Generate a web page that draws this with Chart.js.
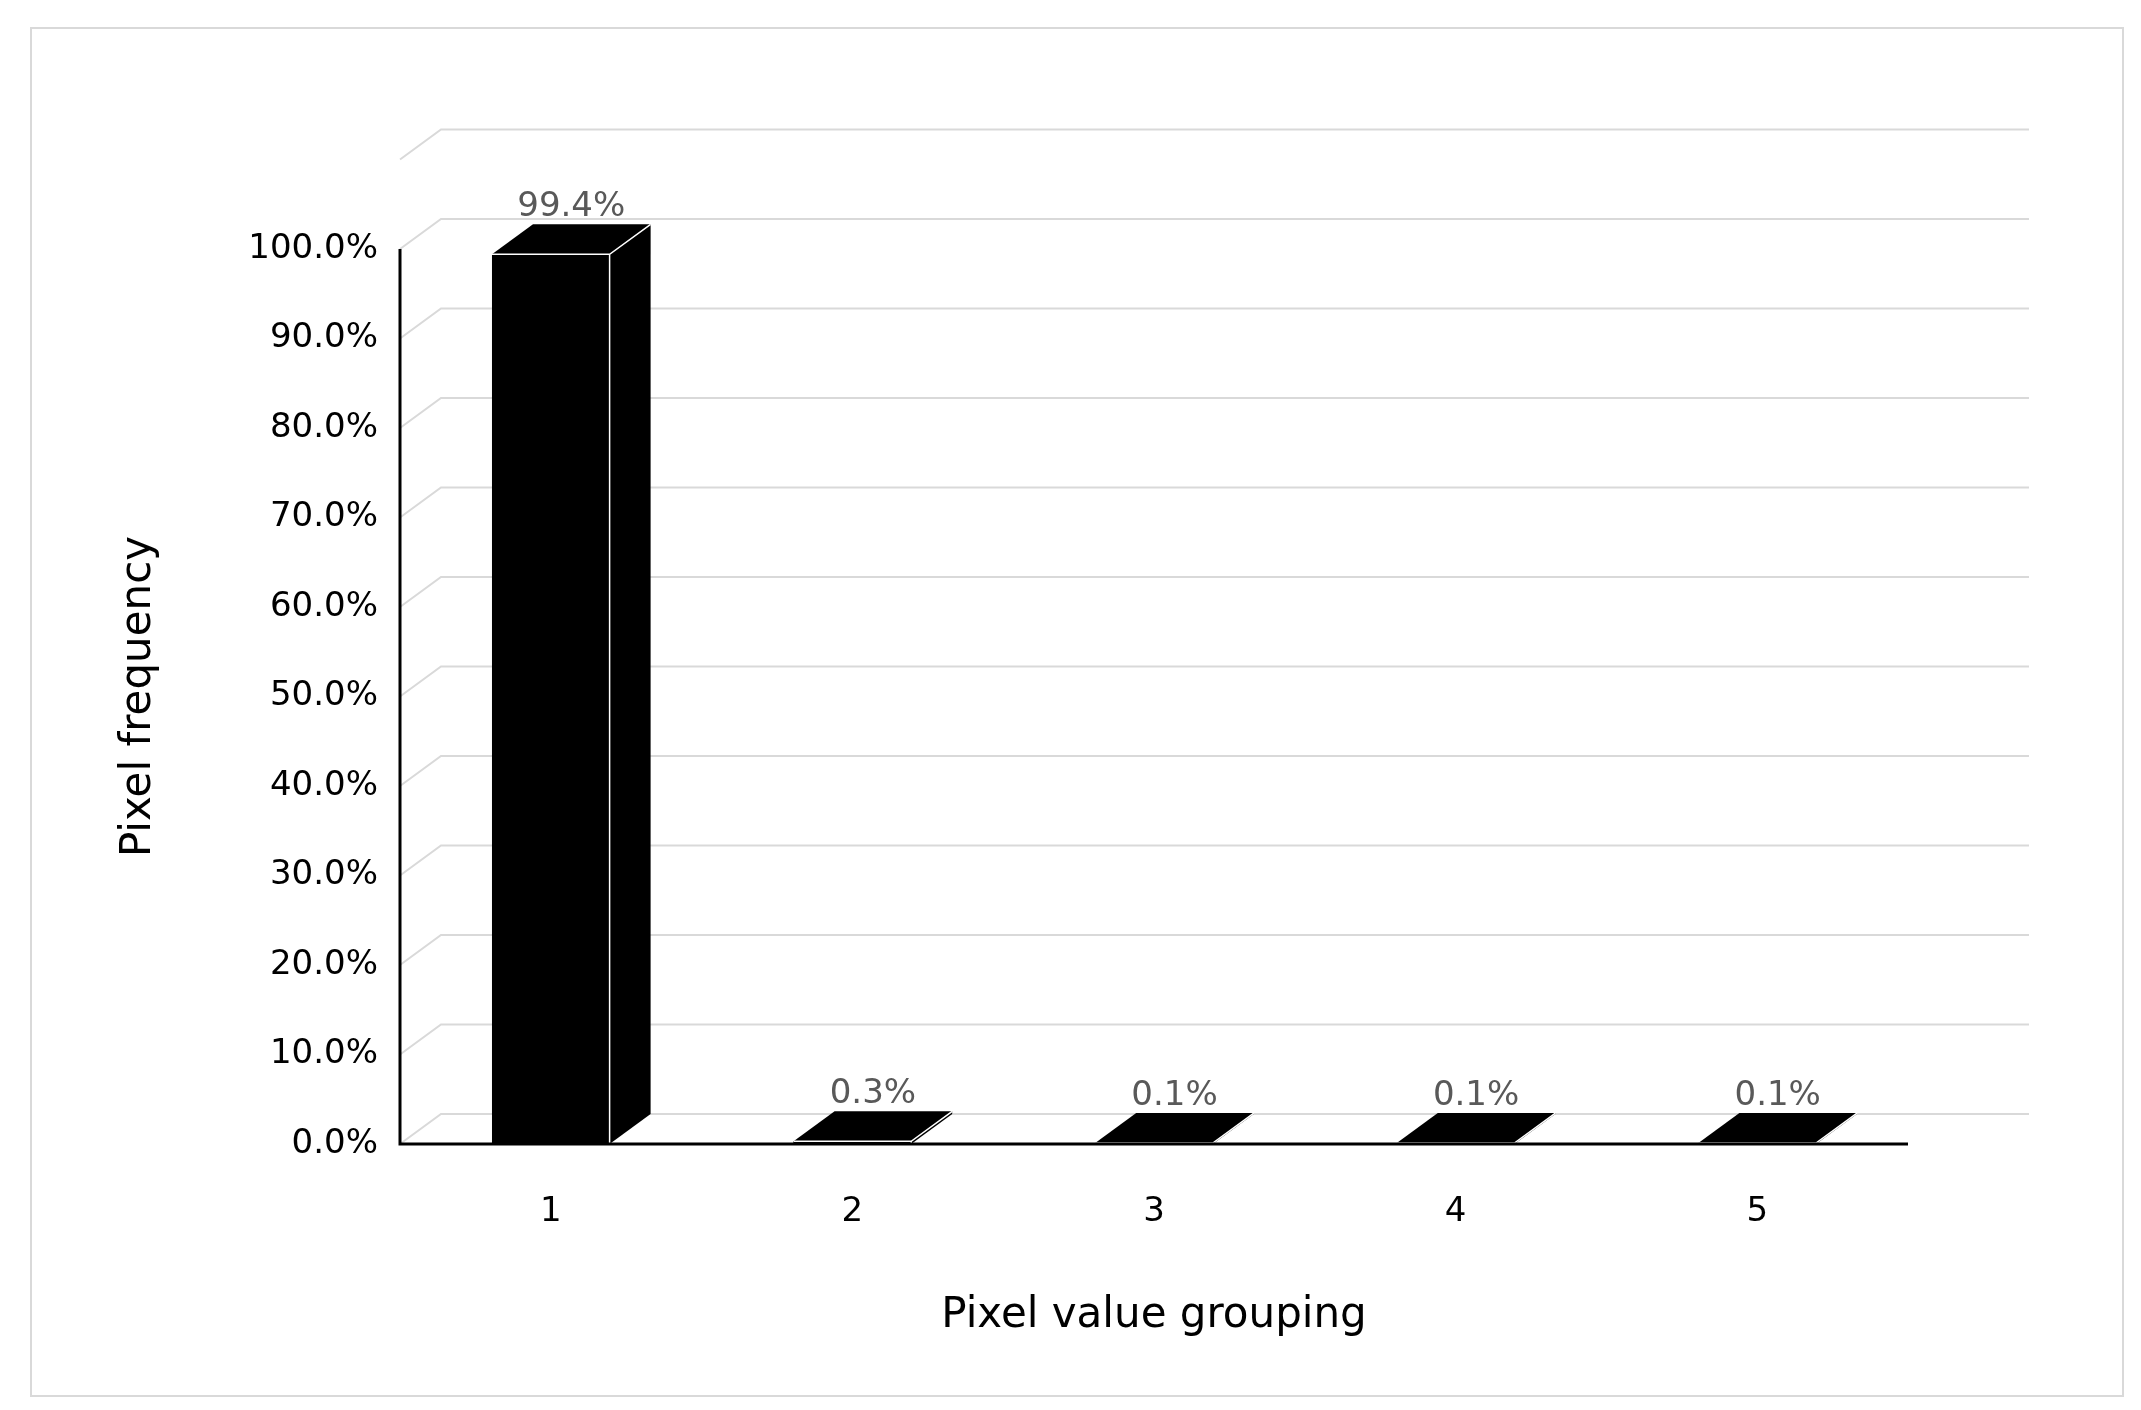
<!DOCTYPE html>
<html>
<head>
<script src="https://cdn.jsdelivr.net/npm/chart.js@4"></script>
<style>
body { margin: 0; background: #fff; }
#box { position: absolute; left: 30px; top: 27px; width: 2090px; height: 1366px; border: 2px solid #d9d9d9; }
</style>
</head>
<body>
<div id="box"><canvas id="c" width="2090" height="1366"></canvas></div>
<script>
const groups = ['1', '2', '3', '4', '5'];
const frequency = [99.4, 0.3, 0.1, 0.1, 0.1];
const yTicks = [0, 10, 20, 30, 40, 50, 60, 70, 80, 90, 100];

const DX = 41, DY = 30;

// back wall grid + 3D faces of the bars
const depth3d = {
    id: 'depth3d',
    beforeDatasetsDraw(chart) {
        const ctx = chart.ctx, y = chart.scales.y, a = chart.chartArea;
        ctx.save();
        ctx.strokeStyle = '#d9d9d9';
        ctx.lineWidth = 2;
        yTicks.concat([110]).forEach(v => {
            const py = y.getPixelForValue(v);
            ctx.beginPath();
            ctx.moveTo(a.left, py);
            ctx.lineTo(a.left + DX, py - DY);
            ctx.lineTo(a.right + DX + 80, py - DY);
            ctx.stroke();
        });
        ctx.restore();
    },
    afterDatasetsDraw(chart) {
        const ctx = chart.ctx;
        ctx.save();
        ctx.fillStyle = '#000';
        chart.getDatasetMeta(0).data.forEach(bar => {
            const l = bar.x - bar.width / 2, r = bar.x + bar.width / 2, t = bar.y, b = bar.base;
            ctx.beginPath();
            ctx.moveTo(l, t);
            ctx.lineTo(l + DX, t - DY);
            ctx.lineTo(r + DX, t - DY);
            ctx.lineTo(r + DX, b - DY);
            ctx.lineTo(r, b);
            ctx.lineTo(l, b);
            ctx.closePath();
            ctx.fill();
            ctx.strokeStyle = '#fff';
            ctx.lineWidth = 1.5;
            ctx.beginPath();
            ctx.moveTo(l, t); ctx.lineTo(r, t); ctx.lineTo(r + DX, t - DY);
            ctx.moveTo(r, t); ctx.lineTo(r, b);
            ctx.stroke();
        });
        // labels
        ctx.fillStyle = '#595959';
        ctx.font = '34px "DejaVu Sans"';
        ctx.textAlign = 'center';
        ctx.textBaseline = 'bottom';
        chart.getDatasetMeta(0).data.forEach((bar, i) => {
            ctx.fillText(frequency[i].toFixed(1) + '%', bar.x + DX / 2, bar.y - DY);
        });
        // front axes
        const a = chart.chartArea;
        ctx.strokeStyle = '#000';
        ctx.lineWidth = 3;
        ctx.beginPath();
        ctx.moveTo(a.left, chart.scales.y.getPixelForValue(100));
        ctx.lineTo(a.left, a.bottom);
        ctx.lineTo(a.right, a.bottom);
        ctx.stroke();
        ctx.restore();
    }
};

new Chart(document.getElementById('c'), {
    type: 'bar',
    data: {
        labels: groups,
        datasets: [{ data: frequency, backgroundColor: '#000', categoryPercentage: 1, barPercentage: 0.39 }]
    },
    options: {
        responsive: false,
        animation: false,
        layout: { padding: { left: 78, right: 214, top: 220, bottom: 50 } },
        plugins: { legend: { display: false }, tooltip: { enabled: false } },
        scales: {
            x: {
                grid: { display: false },
                border: { display: false },
                ticks: { color: '#000', font: { size: 34, family: 'DejaVu Sans' }, padding: 40 },
                title: { display: true, text: 'Pixel value grouping', color: '#000', font: { size: 42, family: 'DejaVu Sans' }, padding: { top: 30 } },
                afterFit(s) { s.height = 201; }
            },
            y: {
                min: 0, max: 100,
                afterBuildTicks(s) { s.ticks = yTicks.map(v => ({ value: v })); },
                grid: { display: false },
                border: { display: false },
                ticks: { color: '#000', font: { size: 34, family: 'DejaVu Sans' }, padding: 14, callback: v => v.toFixed(1) + '%' },
                title: { display: true, text: 'Pixel frequency', color: '#000', font: { size: 42, family: 'DejaVu Sans' }, padding: { bottom: 30 } },
                afterFit(s) { s.width = 290; }
            }
        }
    },
    plugins: [depth3d]
});
</script>
</body>
</html>
